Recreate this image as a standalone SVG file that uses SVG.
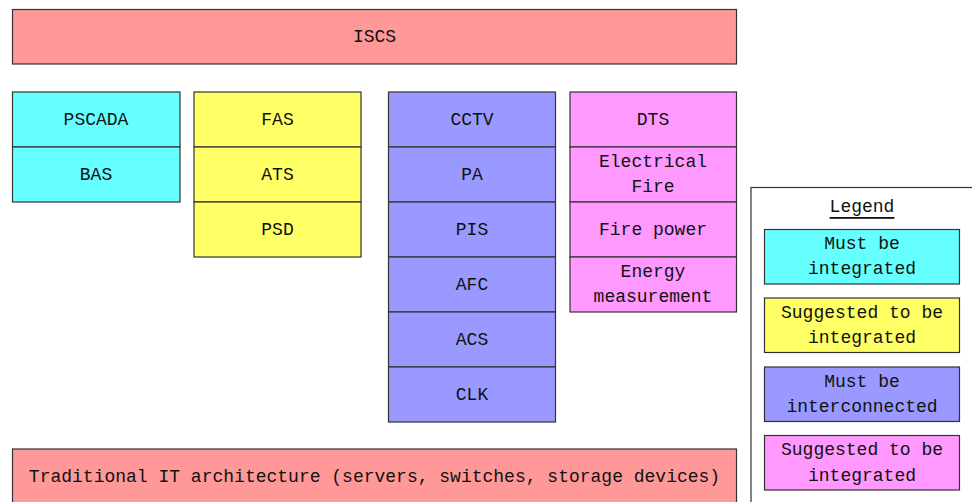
<svg xmlns="http://www.w3.org/2000/svg" width="972" height="502" viewBox="0 0 972 502">
<style>
rect{stroke:#333;stroke-width:1.2}
text{font-family:"Liberation Mono","DejaVu Sans Mono",monospace;font-size:18px;fill:#111;text-anchor:middle;dominant-baseline:central}
.r{fill:#FF9999}.c{fill:#66FFFF}.y{fill:#FFFF66}.p{fill:#9999FF}.m{fill:#FF99FF}
</style>
<rect width="972" height="502" fill="#fff" style="stroke:none"/>
<g id="iscs"><rect class="r" x="12.5" y="9.5" width="724" height="54.5"/><text x="374.5" y="37">ISCS</text></g>
<g id="pscada"><rect class="c" x="12.5" y="92" width="167.5" height="55"/><text x="96" y="119.5">PSCADA</text></g>
<g id="bas"><rect class="c" x="12.5" y="147" width="167.5" height="55"/><text x="96" y="174.5">BAS</text></g>
<g id="fas"><rect class="y" x="194" y="92" width="167" height="55"/><text x="277.5" y="119.5">FAS</text></g>
<g id="ats"><rect class="y" x="194" y="147" width="167" height="55"/><text x="277.5" y="174.5">ATS</text></g>
<g id="psd"><rect class="y" x="194" y="202" width="167" height="55"/><text x="277.5" y="229.5">PSD</text></g>
<g id="cctv"><rect class="p" x="388.5" y="92" width="167" height="55"/><text x="472" y="119.5">CCTV</text></g>
<g id="pa"><rect class="p" x="388.5" y="147" width="167" height="55"/><text x="472" y="174.5">PA</text></g>
<g id="pis"><rect class="p" x="388.5" y="202" width="167" height="55"/><text x="472" y="229.5">PIS</text></g>
<g id="afc"><rect class="p" x="388.5" y="257" width="167" height="55"/><text x="472" y="284.5">AFC</text></g>
<g id="acs"><rect class="p" x="388.5" y="312" width="167" height="55"/><text x="472" y="339.5">ACS</text></g>
<g id="clk"><rect class="p" x="388.5" y="367" width="167" height="55"/><text x="472" y="394.5">CLK</text></g>
<g id="dts"><rect class="m" x="570" y="92" width="166.5" height="55"/><text x="653" y="119.5">DTS</text></g>
<g id="electrical-fire"><rect class="m" x="570" y="147" width="166.5" height="55"/><text x="653" y="162">Electrical</text><text x="653" y="187">Fire</text></g>
<g id="fire-power"><rect class="m" x="570" y="202" width="166.5" height="55"/><text x="653" y="229.5">Fire power</text></g>
<g id="energy"><rect class="m" x="570" y="257" width="166.5" height="55"/><text x="653" y="272">Energy</text><text x="653" y="297">measurement</text></g>
<g id="traditional-it"><rect class="r" x="12.5" y="449" width="724" height="60"/><text x="374.5" y="477">Traditional IT architecture (servers, switches, storage devices)</text></g>
<g id="legend">
<rect x="751" y="187.5" width="230" height="320" fill="#fff"/>
<text x="862" y="207" style="text-decoration:underline">Legend</text>
<rect class="c" x="764.5" y="229.5" width="195" height="54.5"/><text x="862" y="244">Must be</text><text x="862" y="269">integrated</text>
<rect class="y" x="764.5" y="298" width="195" height="54.5"/><text x="862" y="312.5">Suggested to be</text><text x="862" y="338">integrated</text>
<rect class="p" x="764.5" y="367" width="195" height="54.5"/><text x="862" y="381.5">Must be</text><text x="862" y="407">interconnected</text>
<rect class="m" x="764.5" y="435.5" width="195" height="54.5"/><text x="862" y="450">Suggested to be</text><text x="862" y="475.5">integrated</text>
</g>
<g id="connectors"/>
</svg>
